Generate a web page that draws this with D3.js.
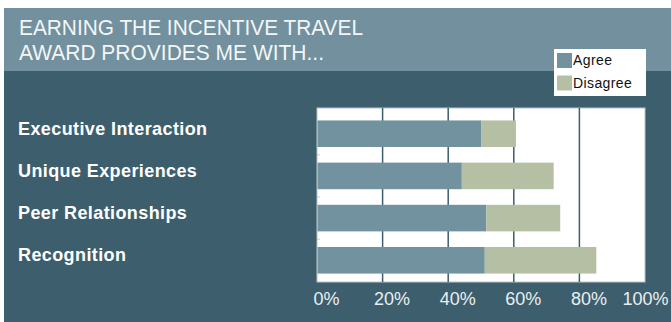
<!DOCTYPE html>
<html lang="en">
<head>
<meta charset="utf-8">
<title>Incentive travel award</title>
<script src="https://cdn.jsdelivr.net/npm/d3@7"></script>
<style>
  body { margin: 0; background: #fff; }
  text { font-family: "Liberation Sans", Arial, Helvetica, sans-serif; }
  .title { font-size: 22px; fill: #f3f6f7; }
  .cat { font-size: 18px; font-weight: bold; fill: #ffffff; letter-spacing: 0.4px; }
  .xaxis text { font-size: 18px; fill: #e9eef0; }
  .legend text { font-size: 14px; fill: #111; letter-spacing: 0.4px; }
</style>
</head>
<body>
<script>
// data
var categories = ["Executive Interaction", "Unique Experiences", "Peer Relationships", "Recognition"];
var agree = [50, 44, 51.5, 51];
var disagree = [10.5, 28, 22.5, 34];
var tickValues = [0, 20, 40, 60, 80, 100];
var titleLines = ["EARNING THE INCENTIVE TRAVEL", "AWARD PROVIDES ME WITH..."];
var seriesNames = ["Agree", "Disagree"];
var colors = ["#7392a0", "#b5bfa3"];

var w = 671, h = 322;
var plotTop = 108, plotBottom = 282;

var svg = d3.select("body").append("svg")
  .attr("width", w)
  .attr("height", h);

// panel backgrounds
svg.append("rect").attr("x", 4).attr("y", 8).attr("width", w - 4).attr("height", 63).attr("fill", "#72909d");
svg.append("rect").attr("x", 4).attr("y", 71).attr("width", w - 4).attr("height", h - 71).attr("fill", "#3d5e6d");

// title
svg.selectAll("text.title")
  .data(titleLines)
  .enter().append("text")
  .attr("class", "title")
  .attr("x", 19)
  .attr("y", function(d, i) { return 35 + i * 25; })
  .attr("textLength", function(d, i) { return i == 0 ? 344 : 305; })
  .attr("lengthAdjust", "spacingAndGlyphs")
  .text(function(d) { return d; });

var xScale = d3.scaleLinear().domain([0, 100]).range([317, 645]);
var yScale = d3.scaleBand()
  .domain(categories)
  .range([plotTop + 4, plotBottom])
  .paddingInner(0.37)
  .paddingOuter(0.2);

// plot area
svg.append("rect")
  .attr("x", xScale(0))
  .attr("y", plotTop)
  .attr("width", xScale(100) - xScale(0))
  .attr("height", plotBottom - plotTop)
  .attr("fill", "#fff")
  .attr("stroke", "#b9c3c8")
  .attr("stroke-width", 1);

// gridlines
svg.selectAll("line.grid")
  .data(tickValues.slice(1, -1))
  .enter().append("line")
  .attr("class", "grid")
  .attr("x1", function(d) { return xScale(d); })
  .attr("x2", function(d) { return xScale(d); })
  .attr("y1", plotTop)
  .attr("y2", plotBottom)
  .attr("stroke", "#3d5e6d")
  .attr("stroke-width", 1.5);

// little ticks between categories on the left edge
svg.selectAll("line.ytick")
  .data(categories.slice(1))
  .enter().append("line")
  .attr("x1", xScale(0))
  .attr("x2", xScale(0) + 3)
  .attr("y1", function(d) { return yScale(d) - yScale.step() * yScale.paddingInner() / 2; })
  .attr("y2", function(d) { return yScale(d) - yScale.step() * yScale.paddingInner() / 2; })
  .attr("stroke", "#c4ccd0");

// stacked bars
var rows = categories.map(function(c, i) { return { cat: c, agree: agree[i], disagree: disagree[i] }; });
var stack = d3.stack().keys(["agree", "disagree"])(rows);

svg.selectAll("g.series")
  .data(stack)
  .enter().append("g")
  .attr("fill", function(d, i) { return colors[i]; })
  .selectAll("rect")
  .data(function(d) { return d; })
  .enter().append("rect")
  .attr("x", function(d) { return xScale(d[0]) + 0.5; })
  .attr("y", function(d) { return yScale(d.data.cat); })
  .attr("width", function(d) { return xScale(d[1]) - xScale(d[0]); })
  .attr("height", yScale.bandwidth());

// category labels
svg.selectAll("text.cat")
  .data(categories)
  .enter().append("text")
  .attr("class", "cat")
  .attr("x", 18)
  .attr("y", function(d) { return yScale(d) + yScale.bandwidth() / 2 + 1; })
  .text(function(d) { return d; });

// x axis
var xAxis = d3.axisBottom(xScale)
  .tickValues(tickValues)
  .tickSize(0)
  .tickFormat(function(d) { return d + "%"; });

var gx = svg.append("g")
  .attr("class", "xaxis")
  .attr("transform", "translate(0," + plotBottom + ")")
  .call(xAxis);
gx.select(".domain").remove();
gx.selectAll("text")
  .attr("y", 23)
  .attr("dy", 0)
  .attr("dx", function(d) { return d == 100 ? 0 : 9; });

// legend
var legend = svg.append("g").attr("class", "legend");
legend.append("rect")
  .attr("x", 554).attr("y", 49)
  .attr("width", 92).attr("height", 47)
  .attr("fill", "#fff");
var items = legend.selectAll("g.item")
  .data(seriesNames)
  .enter().append("g")
  .attr("transform", function(d, i) { return "translate(557," + (53 + i * 22.5) + ")"; });
items.append("rect")
  .attr("width", 15).attr("height", 15)
  .attr("fill", function(d, i) { return colors[i]; });
items.append("text")
  .attr("x", 16)
  .attr("y", 12)
  .text(function(d) { return d; });
</script>
</body>
</html>
